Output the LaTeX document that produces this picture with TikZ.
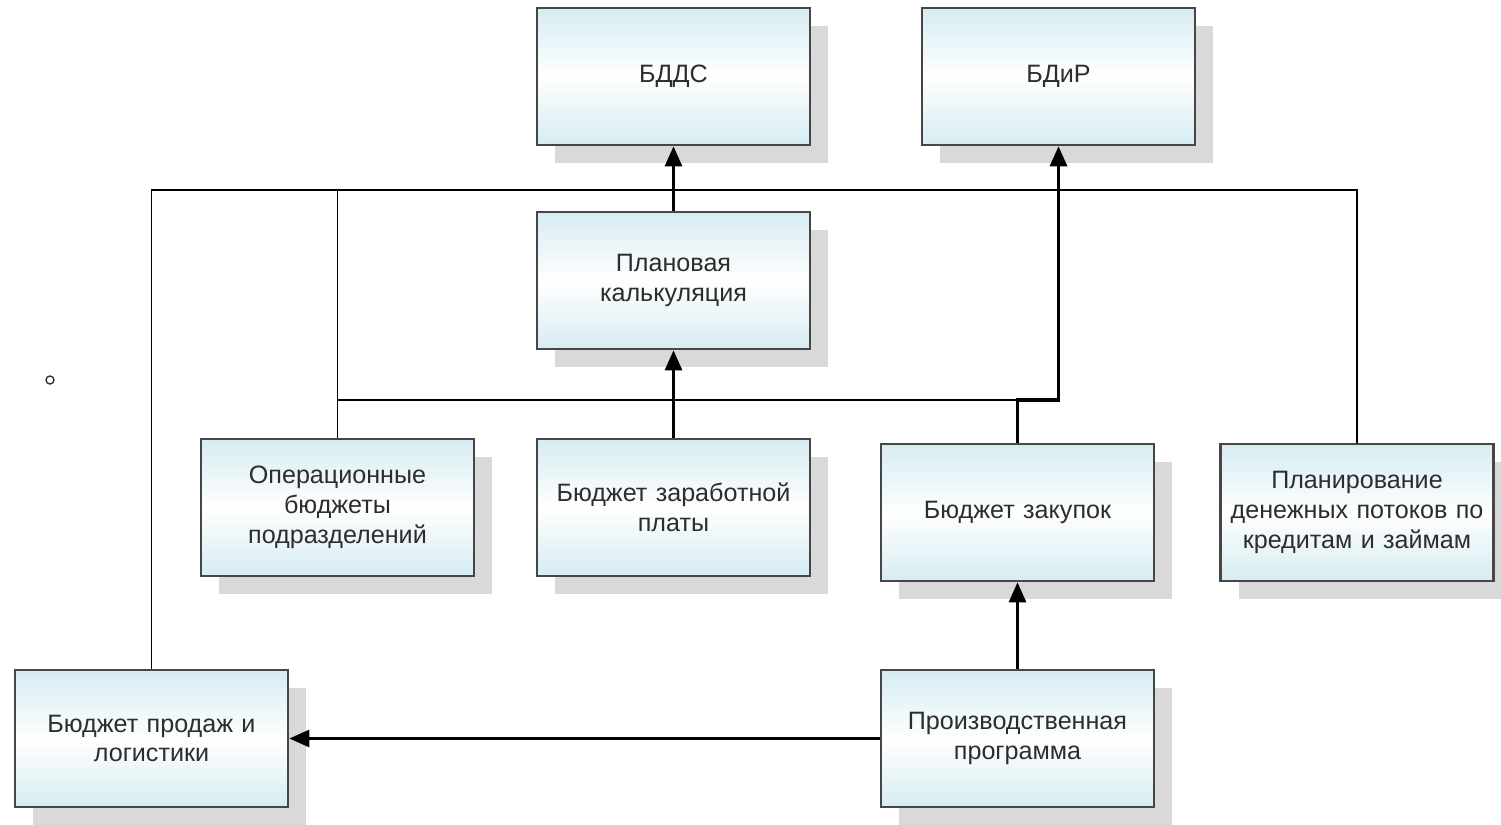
\documentclass[tikz,border=0pt]{standalone}
\usepackage{fontspec}
\setmainfont{Liberation Sans}
\usepackage{tikz}
\usetikzlibrary{arrows.meta, shadows}
\definecolor{boxblue}{RGB}{214,236,242}
\definecolor{boxline}{RGB}{70,70,70}
\definecolor{txtgray}{RGB}{45,45,45}
\tikzstyle{budget} = [rectangle, minimum width=5.46cm, minimum height=2.74cm, text width=5.1cm, align=center, draw=boxline, line width=1.5pt, top color=boxblue, bottom color=boxblue, middle color=white, text=txtgray, font=\fontsize{14.3}{17}\selectfont, drop shadow={shadow xshift=0.36cm, shadow yshift=-0.36cm, fill=black!15, opacity=1}]
\tikzstyle{arrow} = [line width=1.6pt, -{Triangle[width=0.34cm,length=0.4cm]}]
\tikzstyle{link} = [line width=1.1pt]

\begin{document}
\begin{tikzpicture}[node distance=4.5cm]
\useasboundingbox (0,0) rectangle (30.02,-16.48);
\node (bdds) [budget] at (13.47,-1.53) {БДДС};
\node (bdir) [budget, right of = bdds, xshift = 3.2cm] {БДиР};
\node (kalk) [budget, below of = bdds, yshift = 0.42cm] {Плановая\\калькуляция};
\node (zarp) [budget, below of = kalk, yshift = -0.04cm] {Бюджет заработной\\платы};
\node (oper) [budget, left of = zarp, xshift = -2.22cm] {Операционные\\бюджеты\\подразделений};
\node (zakup) [budget, right of = zarp, xshift = 2.38cm, yshift = -0.1cm] {Бюджет закупок};
\node (kredit) [budget, right of = zakup, xshift = 2.29cm] {Планирование\\денежных потоков по\\кредитам и займам};
\node (proizv) [budget, below of = zakup, yshift = -0.02cm] {Производственная\\программа};
\node (prodazh) [budget, left of = proizv, xshift = -12.82cm] {Бюджет продаж и\\логистики};
\node (dot) [circle, draw=black!80, line width=0.8pt, inner sep=0pt, minimum size=0.16cm] at (1.0,-7.6) {};
\coordinate (bus) at (0,-3.8);
\coordinate (lowbus) at (0,-8.0);
\draw [link] (prodazh.north) |- (bus -| kredit.north) -- (kredit.north);
\draw [link] (oper.north) -- (oper.north |- bus);
\draw [link] (oper.north |- lowbus) -- (zakup.north |- lowbus);
\draw [arrow] (kalk.north) -- (bdds.south);
\draw [arrow] (zarp.north) -- (kalk.south);
\draw [arrow, line width=1.8pt] (zakup.north) |- (lowbus -| bdir.south) -- (bdir.south);
\draw [arrow] (proizv.north) -- (zakup.south);
\draw [arrow] (proizv.west) -- (prodazh.east);
\end{tikzpicture}
\end{document}
